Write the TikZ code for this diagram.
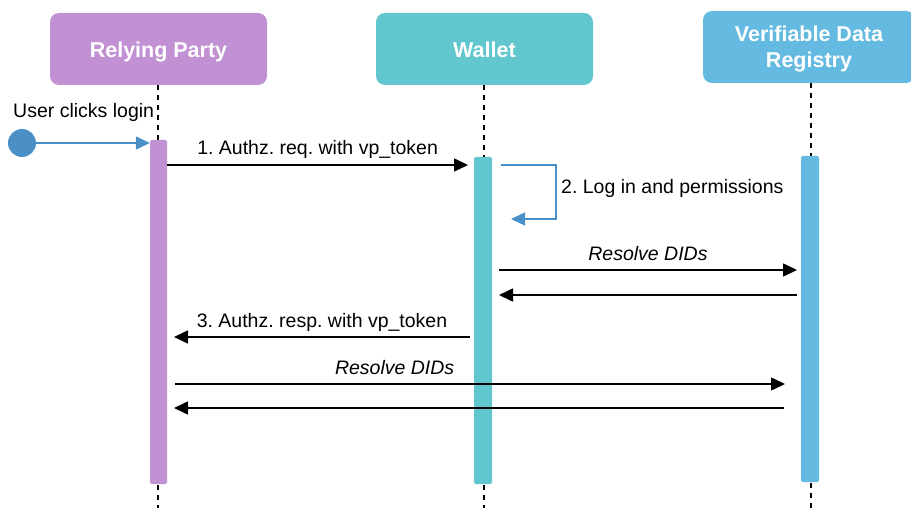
\documentclass[tikz,border=0pt]{standalone}
\usepackage{fontspec}
\setmainfont{Liberation Sans}
\usetikzlibrary{arrows.meta,positioning,calc}
\definecolor{rpPurple}{HTML}{C191D3}
\definecolor{walletTeal}{HTML}{62C6CE}
\definecolor{vdrBlue}{HTML}{64BAE0}
\definecolor{userBlue}{HTML}{4A90C6}
\frenchspacing

\begin{document}
\begin{tikzpicture}[x=1pt,y=-1pt,
    actor/.style={rounded corners=9pt,text=white,align=center,inner sep=0pt,
                  font=\fontsize{21.5}{26}\selectfont\bfseries,minimum height=72pt},
    oneline/.style={text height=22pt,text depth=4pt},
    twoline/.style={text height=44pt,text depth=2pt},
    bar/.style={rounded corners=2pt,minimum width=18pt,inner sep=0pt},
    lifeline/.style={line width=1.5pt,dash pattern=on 5pt off 5pt},
    msg/.style={line width=1.6pt,-{Triangle[length=14pt,width=13pt]}},
    selfmsg/.style={line width=1.4pt,draw=userBlue,-{Triangle[length=14pt,width=13pt]}},
    lbl/.style={font=\fontsize{19.5}{22}\selectfont,inner sep=0pt},
    msglbl/.style={lbl,anchor=base,yshift=10pt}]
    \useasboundingbox (0,0) rectangle (911,508);

    % Actors
    \node[actor,oneline,fill=rpPurple,minimum width=217pt] (rp) at (158.5,49) {Relying Party};
    \node[actor,oneline,fill=walletTeal,minimum width=217pt] (wallet) at (484.5,49) {Wallet};
    \node[actor,twoline,fill=vdrBlue,minimum width=212pt] (vdr) at (809,47) {Verifiable Data\\Registry};

    % Lifelines
    \draw[lifeline] (158,85) -- (158,508);
    \draw[lifeline] (484,85) -- (484,508);
    \draw[lifeline] (811,83) -- (811,508);

    % Activation bars
    \node[bar,fill=rpPurple,minimum width=17pt,minimum height=344pt] (rpbar) at (158.5,312) {};
    \node[bar,fill=walletTeal,minimum height=327pt] (walletbar) at (483,320.5) {};
    \node[bar,fill=vdrBlue,minimum height=326pt] (vdrbar) at (810,319) {};

    % User login
    \node[circle,fill=userBlue,minimum size=28pt,inner sep=0pt] (user) at (22,143) {};
    \node[lbl,anchor=base west] (userlbl) at (13,118) {User clicks login};
    \draw[selfmsg] (user) -- (rpbar.west |- user);

    % Message points
    \coordinate (m1a) at (rpbar.east |- 0,165);
    \coordinate (m1b) at (468,165);
    \coordinate (m2a) at (501,165);
    \coordinate (m2b) at (511,219);
    \coordinate (r1a) at (499,270);
    \coordinate (r1b) at (797,270);
    \coordinate (r2a) at (797,295);
    \coordinate (r2b) at (499,295);
    \coordinate (m3a) at (470,337);
    \coordinate (m3b) at (174,337);
    \coordinate (r3a) at (175,384);
    \coordinate (r3b) at (785,384);
    \coordinate (r4a) at (784,408);
    \coordinate (r4b) at (174,408);

    % Messages
    \draw[msg] (m1a) -- (m1b) node[msglbl,midway] {1. Authz. req. with vp\_token};
    \draw[selfmsg] (m2a) -- (556,165) -- (556,219) -- (m2b);
    \node[lbl,anchor=west] (m2lbl) at (561,188) {2. Log in and permissions};
    \draw[msg] (r1a) -- (r1b) node[msglbl,midway,font=\fontsize{19.5}{22}\selectfont\itshape] {Resolve DIDs};
    \draw[msg] (r2a) -- (r2b);
    \draw[msg] (m3a) -- (m3b) node[msglbl,midway] {3. Authz. resp. with vp\_token};
    \draw[msg] (r3a) -- (r3b) node[msglbl,pos=0.36,font=\fontsize{19.5}{22}\selectfont\itshape] {Resolve DIDs};
    \draw[msg] (r4a) -- (r4b);
\end{tikzpicture}
\end{document}
